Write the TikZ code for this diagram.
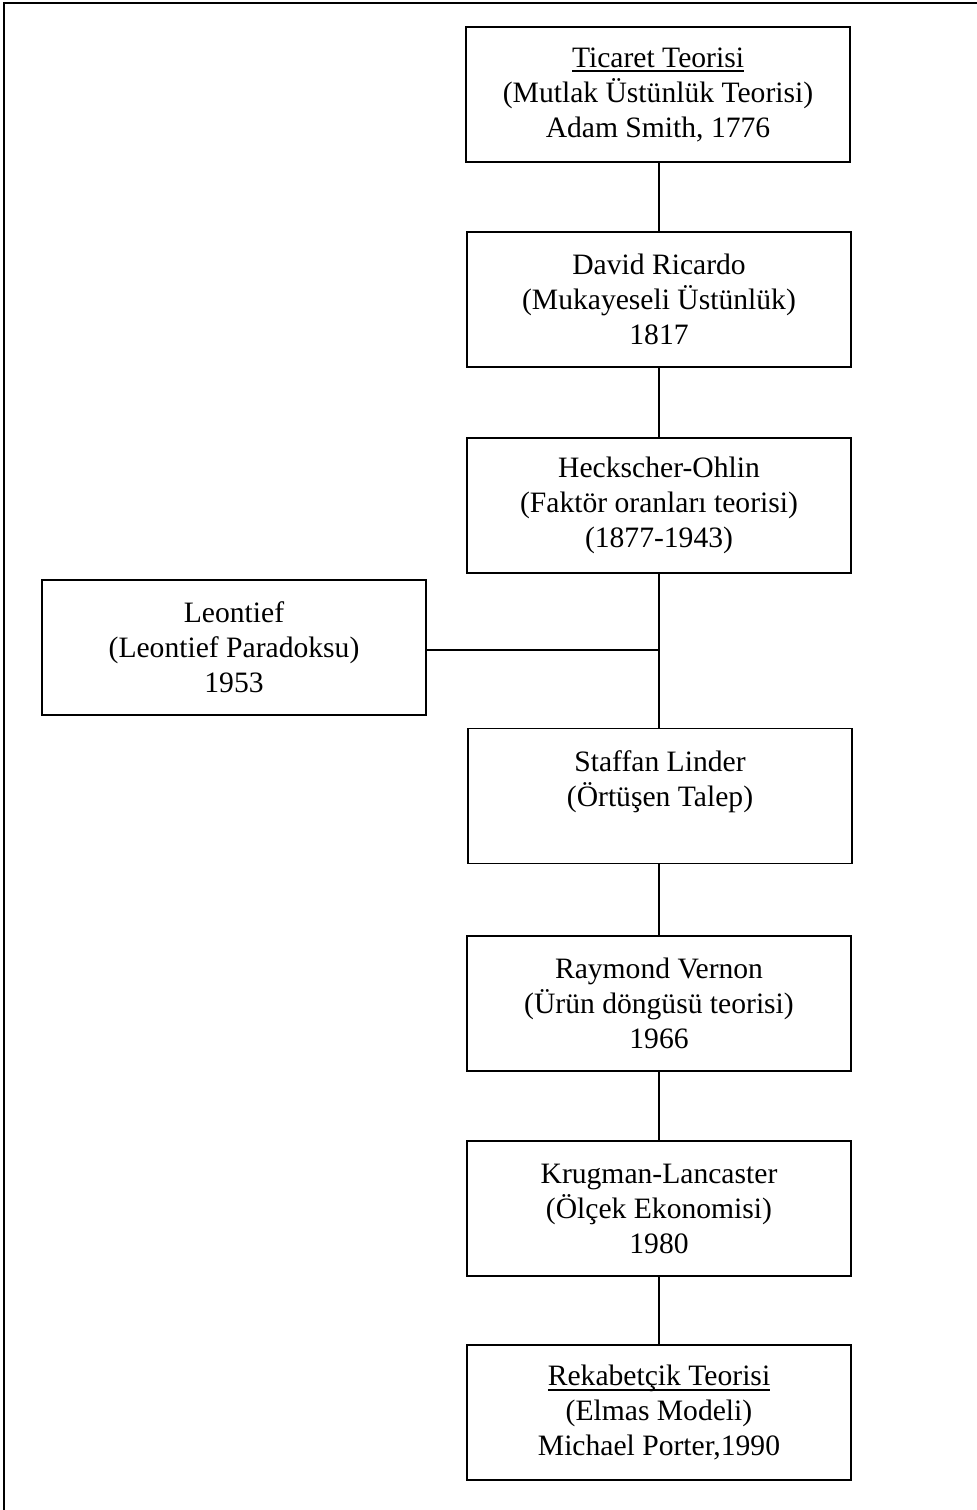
\documentclass[tikz,border=0pt]{standalone}
\usepackage{fontspec}
\setmainfont{Liberation Serif}
% heavier underline set a little below the baseline
\newcommand{\headline}[1]{\setbox0\hbox{#1}\rlap{\rule[-5pt]{\wd0}{1.6pt}}\box0}
\begin{document}
\begin{tikzpicture}[x=1pt,y=-1pt,
  theory/.style={draw, line width=1.4pt, rectangle, minimum width=384pt,
    minimum height=135pt, align=center, inner sep=0pt,
    font=\fontsize{29.6}{35}\selectfont},
  link/.style={draw, line width=1.2pt}]
  \useasboundingbox (0,0) rectangle (977,1510);
  % open page frame (top and left edges)
  \draw[line width=1.5pt] (4,1510) -- (4,3) -- (977,3);

  \node[theory] (smith)   at (658,94.5)  {\headline{Ticaret Teorisi}\\(Mutlak Üstünlük Teorisi)\\Adam Smith, 1776};
  \node[theory] (ricardo) at (659,299.5) {David Ricardo\\(Mukayeseli Üstünlük)\\1817};
  \node[theory] (ho)      at (659,505.5) {Heckscher-Ohlin\\(Faktör oranları teorisi)\\(1877-1943)};
  \node[theory] (leo)     at (234,647.5) {Leontief\\(Leontief Paradoksu)\\1953};
  \node[theory] (linder)  at (660,796)   {Staffan Linder\\(Örtüşen Talep)\\\mbox{}};
  \node[theory] (vernon)  at (659,1003.5){Raymond Vernon\\(Ürün döngüsü teorisi)\\1966};
  \node[theory] (krugman) at (659,1208.5){Krugman-Lancaster\\(Ölçek Ekonomisi)\\1980};
  \node[theory] (porter)  at (659,1412.5){\headline{Rekabetçik Teorisi}\\(Elmas Modeli)\\Michael Porter,1990};

  \coordinate (join) at (659,650);

  \draw[link] (smith.south -| ricardo) -- (ricardo.north);
  \draw[link] (ricardo.south) -- (ho.north);
  \draw[link] (ho.south) -- (join) -- (linder.north -| ho);
  \draw[link] (leo.east |- join) -- (join);
  \draw[link] (linder.south -| vernon) -- (vernon.north);
  \draw[link] (vernon.south) -- (krugman.north);
  \draw[link] (krugman.south) -- (porter.north);
\end{tikzpicture}
\end{document}
